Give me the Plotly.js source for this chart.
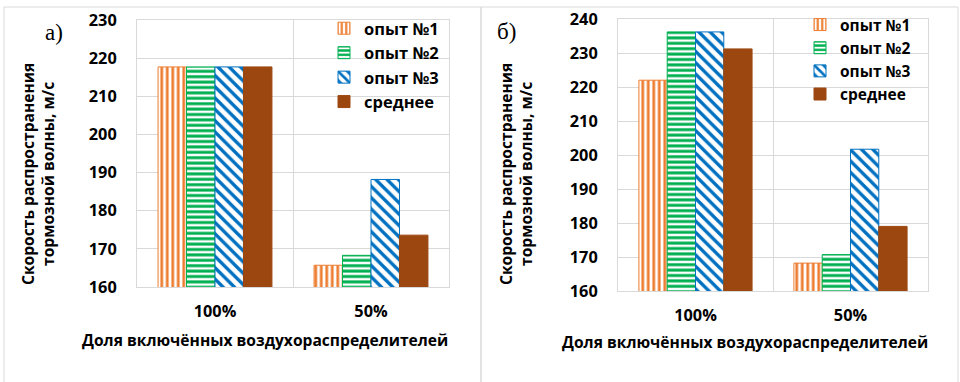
<!DOCTYPE html>
<html>
<head>
<meta charset="utf-8">
<script src="https://cdn.plot.ly/plotly-3.0.1.min.js"></script>
<style>html,body{margin:0;padding:0;background:#fff;}#chart{width:960px;height:382px;}</style>
</head>
<body>
<div id="chart"></div>
<script>
// ---- data ----
const categories = ['100%', '50%'];
const seriesNames = ['опыт №1', 'опыт №2', 'опыт №3', 'среднее'];
// panel а)
const a_exp1 = [217.7, 165.7];
const a_exp2 = [217.7, 168.3];
const a_exp3 = [217.7, 188.2];
const a_mean = [217.7, 173.6];
// panel б)
const b_exp1 = [222.0, 168.2];
const b_exp2 = [236.2, 170.7];
const b_exp3 = [236.2, 201.7];
const b_mean = [231.2, 179.0];
const yTicksA = [160, 170, 180, 190, 200, 210, 220, 230];
const yTicksB = [160, 170, 180, 190, 200, 210, 220, 230, 240];
const xTitle = 'Доля включённых воздухораспределителей';
const yTitle = 'Скорость распространения<br>тормозной волны, м/с';
const panelLabels = ['а)', 'б)'];

// ---- styles ----
const FONT = '"Open Sans", Roboto, sans-serif';
const W = 960, H = 382;
const px = v => v / W;
const py = v => 1 - v / H;
const colors = ['#ED7D31', '#00B050', '#0070C0', '#9C4710'];
const patterns = [
  {shape: '|', fgcolor: colors[0], bgcolor: '#FFFFFF', size: 5.5, solidity: 0.5},
  {shape: '-', fgcolor: colors[1], bgcolor: '#FFFFFF', size: 5.4, solidity: 0.55},
  {shape: '\\', fgcolor: colors[2], bgcolor: '#FFFFFF', size: 8, solidity: 0.42},
  null
];

function makeTraces(vals, xa, ya, leg, prefix) {
  return vals.map((v, i) => {
    const m = {color: colors[i], line: {color: colors[i], width: 1}};
    if (patterns[i]) m.pattern = patterns[i];
    return {
      type: 'bar', x: categories, y: v, name: seriesNames[i],
      xaxis: xa, yaxis: ya, legend: leg, legendgroup: prefix + i,
      marker: m, hoverinfo: 'y+name'
    };
  });
}

const traces = [
  ...makeTraces([a_exp1, a_exp2, a_exp3, a_mean], 'x', 'y', 'legend', 'a'),
  ...makeTraces([b_exp1, b_exp2, b_exp3, b_mean], 'x2', 'y2', 'legend2', 'b')
];

const tickFont = {family: FONT, size: 16.3, color: '#000', weight: 700};
const gridC = '#D9D9D9';
function xAxis(d, anchor) {
  return {domain: d, anchor: anchor, type: 'category', tickson: 'boundaries', showgrid: true, gridcolor: gridC,
    showline: true, linecolor: gridC, mirror: true, ticks: '', tickfont: tickFont,
    ticklabelstandoff: 9, fixedrange: true, automargin: false, zeroline: false};
}
function yAxis(d, anchor, r, tv) {
  return {domain: d, anchor: anchor, range: r, tickvals: tv, showgrid: true, gridcolor: gridC,
    showline: true, linecolor: gridC, mirror: true, ticks: '', tickfont: tickFont,
    ticklabelstandoff: 16, fixedrange: true, automargin: false, zeroline: false};
}
const legFontA = {family: FONT, size: 16.5, color: '#000', weight: 700};
const legFontB = {family: FONT, size: 15.5, color: '#000', weight: 700};
const titleFont = {family: FONT, size: 15.6, color: '#000', weight: 700};
const serif = {family: '"Liberation Serif", "DejaVu Serif", serif', size: 23, color: '#000'};

const layout = {
  width: W, height: H,
  margin: {l: 0, r: 0, t: 0, b: 0},
  paper_bgcolor: '#FFFFFF', plot_bgcolor: '#FFFFFF',
  barmode: 'group', bargap: 0.27, bargroupgap: 0,
  showlegend: true,
  xaxis: xAxis([px(137), px(449)], 'y'),
  yaxis: yAxis([py(287), py(20)], 'x', [160, 230], yTicksA),
  xaxis2: xAxis([px(618), px(928)], 'y2'),
  yaxis2: yAxis([py(291), py(19)], 'x2', [160, 240], yTicksB),
  legend: {x: px(324), y: py(11), xanchor: 'left', yanchor: 'top', font: legFontA,
    bgcolor: 'rgba(0,0,0,0)', tracegroupgap: 0, itemclick: false, itemdoubleclick: false},
  legend2: {x: px(800), y: py(8), xanchor: 'left', yanchor: 'top', font: legFontB,
    bgcolor: 'rgba(0,0,0,0)', tracegroupgap: 0, itemclick: false, itemdoubleclick: false},
  shapes: [
    {type: 'rect', xref: 'paper', yref: 'paper', x0: px(4), x1: px(481), y0: py(390), y1: py(7),
      line: {color: '#D9D9D9', width: 1}, fillcolor: 'rgba(0,0,0,0)', layer: 'below'},
    {type: 'rect', xref: 'paper', yref: 'paper', x0: px(481), x1: px(958), y0: py(390), y1: py(7),
      line: {color: '#D9D9D9', width: 1}, fillcolor: 'rgba(0,0,0,0)', layer: 'below'}
  ],
  annotations: [
    {text: xTitle, xref: 'paper', yref: 'paper', x: px(264.5), y: py(340), xanchor: 'center', yanchor: 'middle',
      showarrow: false, font: titleFont},
    {text: xTitle, xref: 'paper', yref: 'paper', x: px(744.5), y: py(342), xanchor: 'center', yanchor: 'middle',
      showarrow: false, font: titleFont},
    {text: yTitle, xref: 'paper', yref: 'paper', x: px(38), y: py(174), xanchor: 'center', yanchor: 'middle',
      textangle: -90, showarrow: false, font: titleFont},
    {text: yTitle, xref: 'paper', yref: 'paper', x: px(516), y: py(174), xanchor: 'center', yanchor: 'middle',
      textangle: -90, showarrow: false, font: titleFont},
    {text: panelLabels[0], xref: 'paper', yref: 'paper', x: px(54), y: py(33), xanchor: 'center', yanchor: 'middle',
      showarrow: false, font: serif},
    {text: panelLabels[1], xref: 'paper', yref: 'paper', x: px(507), y: py(31), xanchor: 'center', yanchor: 'middle',
      showarrow: false, font: serif}
  ]
};

Plotly.newPlot('chart', traces, layout, {displayModeBar: false, responsive: false});
</script>
</body>
</html>
